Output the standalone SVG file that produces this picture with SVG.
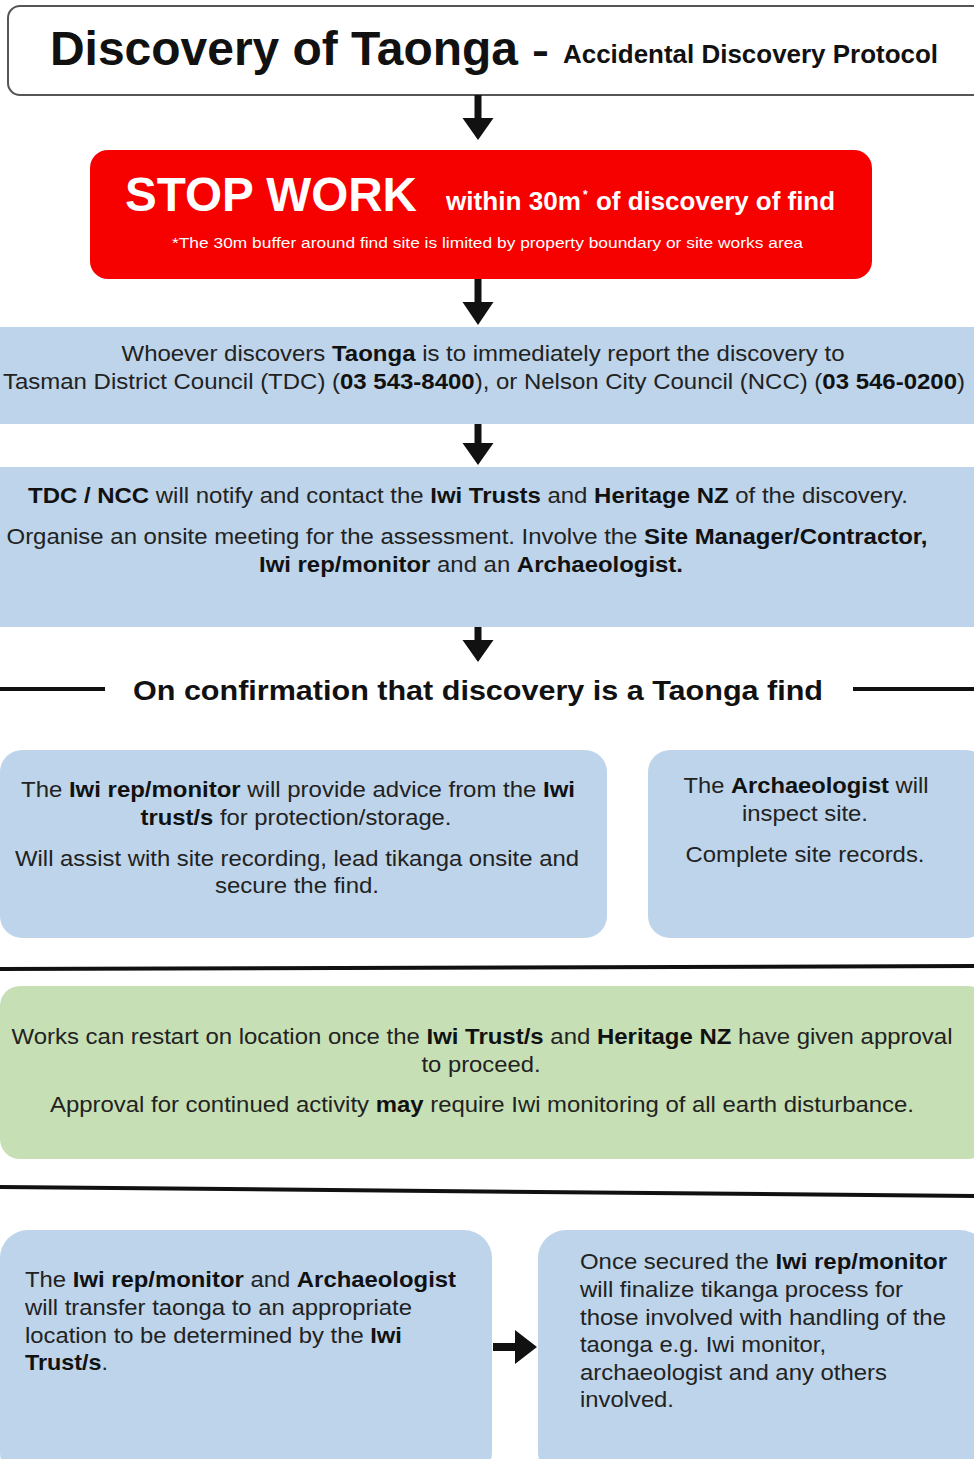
<svg xmlns="http://www.w3.org/2000/svg" width="974" height="1459" viewBox="0 0 974 1459">
<style>
text{font-family:"Liberation Sans",Arial,sans-serif;fill:#222}
.b{font-weight:bold;fill:#111}
.body{font-size:22px}
.mid{text-anchor:middle}
.blue{fill:#bdd4ea}
.green{fill:#c6dfb5}
.w{fill:#fff;font-weight:bold}
.conn{fill:#111;stroke:none}
.rule{stroke:#111;stroke-width:4;fill:none}
</style>
<rect width="974" height="1459" fill="#fff"/>
<g id="title">
<rect x="8" y="6" width="980" height="89" rx="12" fill="#fff" stroke="#555" stroke-width="2"/>
<text x="50" y="65" class="b" font-size="48" textLength="468" lengthAdjust="spacingAndGlyphs">Discovery of Taonga</text>
<text x="532" y="64" class="b" font-size="40" textLength="17" lengthAdjust="spacingAndGlyphs">-</text>
<text x="563" y="63" class="b" font-size="25" textLength="375" lengthAdjust="spacingAndGlyphs">Accidental Discovery Protocol</text>
</g>
<g id="stop">
<rect x="90" y="150" width="782" height="129" rx="18" fill="#f70000"/>
<text x="125" y="211" class="w" font-size="48" textLength="292" lengthAdjust="spacingAndGlyphs">STOP WORK</text>
<text x="446" y="210" class="w" font-size="25" textLength="135" lengthAdjust="spacingAndGlyphs">within 30m</text>
<text x="583" y="199" class="w" font-size="12">*</text>
<text x="596" y="210" class="w" font-size="25" textLength="239" lengthAdjust="spacingAndGlyphs">of discovery of find</text>
<text x="172" y="248" font-size="14" style="fill:#fff" textLength="631" lengthAdjust="spacingAndGlyphs">*The 30m buffer around find site is limited by property boundary or site works area</text>
</g>
<g id="report">
<rect x="0" y="327" width="974" height="97" class="blue"/>
<text x="483" y="361" class="body mid" textLength="723" lengthAdjust="spacingAndGlyphs">Whoever discovers <tspan class="b">Taonga</tspan> is to immediately report the discovery to</text>
<text x="484" y="389" class="body mid" textLength="962" lengthAdjust="spacingAndGlyphs">Tasman District Council (TDC) (<tspan class="b">03 543-8400</tspan>), or Nelson City Council (NCC) (<tspan class="b">03 546-0200</tspan>)</text>
</g>
<g id="notify">
<rect x="0" y="467" width="974" height="160" class="blue"/>
<text x="468" y="503" class="body mid" textLength="880" lengthAdjust="spacingAndGlyphs"><tspan class="b">TDC / NCC</tspan> will notify and contact the <tspan class="b">Iwi Trusts</tspan> and <tspan class="b">Heritage NZ</tspan> of the discovery.</text>
<text x="467" y="544" class="body mid" textLength="921" lengthAdjust="spacingAndGlyphs">Organise an onsite meeting for the assessment. Involve the <tspan class="b">Site Manager/Contractor,</tspan></text>
<text x="471" y="572" class="body mid" textLength="424" lengthAdjust="spacingAndGlyphs"><tspan class="b">Iwi rep/monitor</tspan> and an <tspan class="b">Archaeologist.</tspan></text>
</g>
<g id="confirm">
<text x="478" y="700" class="b mid" font-size="28" textLength="690" lengthAdjust="spacingAndGlyphs">On confirmation that discovery is a Taonga find</text>
</g>
<g id="iwi-advice">
<rect x="0" y="750" width="607" height="188" rx="22" class="blue"/>
<text x="298" y="797" class="body mid" textLength="554" lengthAdjust="spacingAndGlyphs">The <tspan class="b">Iwi rep/monitor</tspan> will provide advice from the <tspan class="b">Iwi</tspan></text>
<text x="296" y="825" class="body mid" textLength="311" lengthAdjust="spacingAndGlyphs"><tspan class="b">trust/s</tspan> for protection/storage.</text>
<text x="297" y="866" class="body mid" textLength="564" lengthAdjust="spacingAndGlyphs">Will assist with site recording, lead tikanga onsite and</text>
<text x="297" y="893" class="body mid" textLength="164" lengthAdjust="spacingAndGlyphs">secure the find.</text>
</g>
<g id="archaeologist">
<rect x="648" y="750" width="340" height="188" rx="22" class="blue"/>
<text x="806" y="793" class="body mid" textLength="245" lengthAdjust="spacingAndGlyphs">The <tspan class="b">Archaeologist</tspan> will</text>
<text x="805" y="821" class="body mid" textLength="126" lengthAdjust="spacingAndGlyphs">inspect site.</text>
<text x="805" y="862" class="body mid" textLength="239" lengthAdjust="spacingAndGlyphs">Complete site records.</text>
</g>
<g id="restart">
<rect x="0" y="986" width="988" height="173" rx="20" class="green"/>
<text x="482" y="1044" class="body mid" textLength="941" lengthAdjust="spacingAndGlyphs">Works can restart on location once the <tspan class="b">Iwi Trust/s</tspan> and <tspan class="b">Heritage NZ</tspan> have given approval</text>
<text x="481" y="1072" class="body mid" textLength="119" lengthAdjust="spacingAndGlyphs">to proceed.</text>
<text x="482" y="1112" class="body mid" textLength="864" lengthAdjust="spacingAndGlyphs">Approval for continued activity <tspan class="b">may</tspan> require Iwi monitoring of all earth disturbance.</text>
</g>
<g id="transfer">
<rect x="0" y="1230" width="492" height="250" rx="28" class="blue"/>
<text x="25" y="1287" class="body" textLength="431" lengthAdjust="spacingAndGlyphs">The <tspan class="b">Iwi rep/monitor</tspan> and <tspan class="b">Archaeologist</tspan></text>
<text x="25" y="1315" class="body" textLength="387" lengthAdjust="spacingAndGlyphs">will transfer taonga to an appropriate</text>
<text x="25" y="1343" class="body" textLength="377" lengthAdjust="spacingAndGlyphs">location to be determined by the <tspan class="b">Iwi</tspan></text>
<text x="25" y="1370" class="body" textLength="83" lengthAdjust="spacingAndGlyphs"><tspan class="b">Trust/s</tspan>.</text>
</g>
<g id="finalize">
<rect x="538" y="1230" width="450" height="250" rx="28" class="blue"/>
<text x="580" y="1269" class="body" textLength="367" lengthAdjust="spacingAndGlyphs">Once secured the <tspan class="b">Iwi rep/monitor</tspan></text>
<text x="580" y="1297" class="body" textLength="323" lengthAdjust="spacingAndGlyphs">will finalize tikanga process for</text>
<text x="580" y="1325" class="body" textLength="366" lengthAdjust="spacingAndGlyphs">those involved with handling of the</text>
<text x="580" y="1352" class="body" textLength="246" lengthAdjust="spacingAndGlyphs">taonga e.g. Iwi monitor,</text>
<text x="580" y="1380" class="body" textLength="307" lengthAdjust="spacingAndGlyphs">archaeologist and any others</text>
<text x="580" y="1407" class="body" textLength="94" lengthAdjust="spacingAndGlyphs">involved.</text>
</g>
<g id="connectors">
<path class="conn" d="M474.5 95 h7 v23 h12 l-15.5 22 l-15.5 -22 h12 z"/>
<path class="conn" d="M474.5 279 h7 v23 h12 l-15.5 23 l-15.5 -23 h12 z"/>
<path class="conn" d="M474.5 424 h7 v19 h12 l-15.5 22 l-15.5 -22 h12 z"/>
<path class="conn" d="M474.5 627 h7 v13 h12 l-15.5 22 l-15.5 -22 h12 z"/>
<path class="conn" d="M493 1343 h22 v-13 l22 17 l-22 17 v-13 h-22 z"/>
<line class="rule" x1="0" y1="689" x2="105" y2="689"/>
<line class="rule" x1="853" y1="689" x2="974" y2="689"/>
<line class="rule" x1="0" y1="969" x2="974" y2="966" stroke-width="3"/>
<line class="rule" x1="0" y1="1187" x2="974" y2="1196" stroke-width="3"/>
</g>
</svg>
